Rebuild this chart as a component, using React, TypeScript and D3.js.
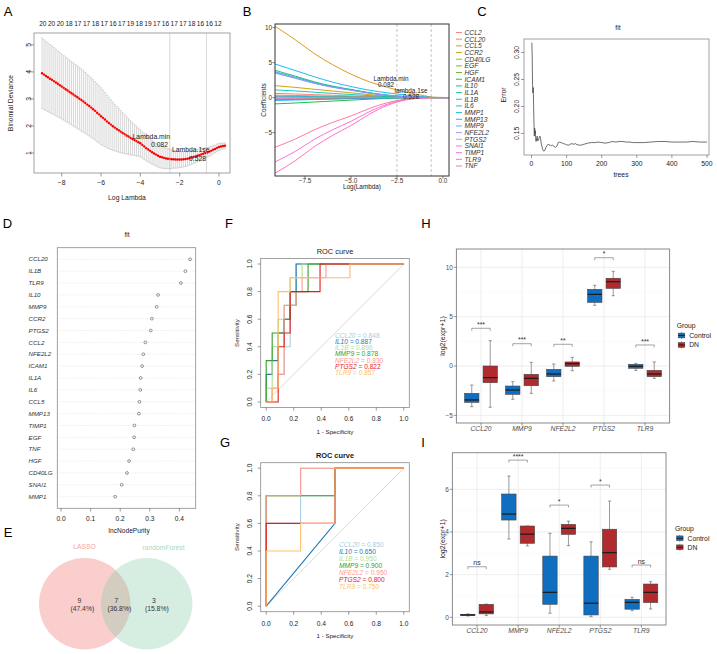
import React from 'react';
import * as d3 from 'd3';

const FONT = '"Liberation Sans", Arial, Helvetica, sans-serif';

// ---------- A: LASSO cross-validation ----------
const cvLogLambda = d3.range(94).map((i) => -9.0 + i * 0.1);
const cvMean = [
  3.95, 3.9, 3.85, 3.8, 3.75, 3.71, 3.66, 3.61, 3.56, 3.51,
  3.46, 3.41, 3.36, 3.31, 3.26, 3.21, 3.16, 3.11, 3.06, 3.01,
  2.96, 2.91, 2.85, 2.79, 2.74, 2.68, 2.62, 2.56, 2.49, 2.43,
  2.36, 2.3, 2.24, 2.17, 2.11, 2.05, 1.99, 1.94, 1.89, 1.84,
  1.79, 1.74, 1.7, 1.65, 1.61, 1.56, 1.52, 1.48, 1.44, 1.4,
  1.36, 1.3, 1.24, 1.18, 1.13, 1.08, 1.03, 0.98, 0.94, 0.9,
  0.86, 0.84, 0.82, 0.8, 0.79, 0.78, 0.77, 0.77, 0.76, 0.76,
  0.76, 0.76, 0.77, 0.78, 0.79, 0.81, 0.83, 0.85, 0.87, 0.9,
  0.92, 0.95, 0.97, 1.0, 1.02, 1.05, 1.08, 1.12, 1.15, 1.19,
  1.22, 1.24, 1.26, 1.27,
];
const cvSe = [
  1.3, 1.29, 1.28, 1.27, 1.26, 1.25, 1.24, 1.23, 1.22, 1.21,
  1.2, 1.19, 1.19, 1.18, 1.18, 1.17, 1.17, 1.16, 1.16, 1.15,
  1.15, 1.14, 1.13, 1.12, 1.11, 1.1, 1.09, 1.08, 1.07, 1.06,
  1.05, 1.03, 1.0, 0.98, 0.95, 0.92, 0.89, 0.86, 0.83, 0.81,
  0.78, 0.75, 0.72, 0.69, 0.66, 0.63, 0.6, 0.57, 0.55, 0.52,
  0.5, 0.49, 0.48, 0.47, 0.46, 0.45, 0.44, 0.43, 0.42, 0.42,
  0.41, 0.4, 0.39, 0.38, 0.37, 0.36, 0.35, 0.33, 0.32, 0.31,
  0.3, 0.29, 0.28, 0.28, 0.27, 0.26, 0.25, 0.24, 0.23, 0.23,
  0.22, 0.21, 0.2, 0.19, 0.18, 0.17, 0.16, 0.15, 0.14, 0.14,
  0.13, 0.12, 0.11, 0.1,
];
const cvNzero = [20, 20, 20, 18, 17, 17, 18, 17, 16, 17, 19, 18, 19, 17, 16, 17, 17, 18, 16, 16, 12];
const lambdaMin = 0.082;
const lambda1se = 0.528;

// ---------- B: coefficient paths ----------
const pathLogLambda = [-9.13, -8, -7, -6, -5, -4, -3, -2, -1, -0.5, 0.33];
const lassoGenes = ['CCL2', 'CCL20', 'CCL5', 'CCR2', 'CD40LG', 'EGF', 'HGF', 'ICAM1', 'IL10', 'IL1A', 'IL1B',
  'IL6', 'MMP1', 'MMP13', 'MMP9', 'NFE2L2', 'PTGS2', 'SNAI1', 'TIMP1', 'TLR9', 'TNF'];
const coefPaths = [
  [0.6, 0.51, 0.42, 0.33, 0.24, 0.15, 0.07, 0.03, 0.01, 0, 0],
  [0.35, 0.3, 0.25, 0.19, 0.14, 0.09, 0.04, 0.02, 0, 0, 0],
  [10.2, 8.2, 6.3, 4.7, 3.35, 2.25, 1.45, 0.77, 0.26, 0.05, 0],
  [1.7, 1.45, 1.19, 0.94, 0.68, 0.43, 0.2, 0.09, 0.02, 0, 0],
  [0.1, 0.08, 0.06, 0.05, 0.03, 0.02, 0.01, 0, 0, 0, 0],
  [-0.2, -0.17, -0.14, -0.11, -0.08, -0.05, -0.02, -0.01, 0, 0, 0],
  [-0.3, -0.26, -0.21, -0.17, -0.12, -0.08, -0.04, -0.01, 0, 0, 0],
  [-0.9, -0.77, -0.63, -0.5, -0.36, -0.23, -0.11, -0.05, -0.01, 0, 0],
  [3.9, 3.04, 2.26, 1.64, 1.17, 0.7, 0.35, 0.14, 0.03, 0, 0],
  [3.7, 2.89, 2.15, 1.55, 1.11, 0.67, 0.33, 0.13, 0.03, 0, 0],
  [1.1, 0.94, 0.77, 0.6, 0.44, 0.28, 0.13, 0.06, 0.01, 0, 0],
  [0.2, 0.17, 0.14, 0.11, 0.08, 0.05, 0.02, 0.01, 0, 0, 0],
  [4.8, 3.84, 2.98, 2.21, 1.58, 1.06, 0.67, 0.36, 0.12, 0.02, 0],
  [-0.4, -0.34, -0.28, -0.22, -0.16, -0.1, -0.05, -0.02, 0, 0, 0],
  [3.5, 2.73, 2.03, 1.47, 1.05, 0.63, 0.32, 0.12, 0.03, 0, 0],
  [3.6, 2.81, 2.09, 1.51, 1.08, 0.65, 0.32, 0.13, 0.03, 0, 0],
  [0.05, 0.04, 0.03, 0.03, 0.02, 0.01, 0.01, 0, 0, 0, 0],
  [-0.1, -0.09, -0.07, -0.06, -0.04, -0.03, -0.01, 0, 0, 0, 0],
  [-9.2, -7.64, -5.98, -4.6, -3.4, -2.02, -0.92, -0.28, -0.05, 0, 0],
  [-10.8, -8.96, -7.02, -5.4, -4.0, -2.38, -1.08, -0.32, -0.05, 0, 0],
  [-7.1, -5.89, -4.62, -3.55, -2.63, -1.56, -0.71, -0.21, -0.04, 0, 0],
];

// ---------- C: random forest error ----------
const rfTrees = [1, 2, 3, 4, 5, 6, 7, 8, 9, 10, 11, 12, 13, 14, 15, 16, 17, 18, 20, 22, 24, 26, 28, 30, 32, 35, 38, 41,
  44, 47, 50, 53, 56, 60, 64, 68, 72, 76, 80, 84, 88, 92, 96, 100, 105, 110, 115, 120, 125, 130, 140, 150, 160, 170,
  180, 190, 200, 210, 220, 230, 240, 250, 260, 270, 280, 290, 300, 320, 340, 360, 380, 400, 420, 440, 460, 480, 500];
const rfError = [0.318, 0.29, 0.24, 0.225, 0.235, 0.2, 0.17, 0.145, 0.16, 0.15, 0.155, 0.14, 0.135, 0.14, 0.138, 0.145,
  0.14, 0.136, 0.138, 0.142, 0.145, 0.14, 0.13, 0.125, 0.12, 0.117, 0.119, 0.124, 0.127, 0.13, 0.128, 0.129, 0.127,
  0.128, 0.126, 0.124, 0.126, 0.133, 0.134, 0.133, 0.132, 0.131, 0.13, 0.129, 0.128, 0.13, 0.131, 0.13, 0.131, 0.129,
  0.128, 0.13, 0.132, 0.133, 0.133, 0.134, 0.133, 0.132, 0.133, 0.135, 0.134, 0.135, 0.135, 0.134, 0.134, 0.133,
  0.133, 0.133, 0.134, 0.135, 0.135, 0.134, 0.134, 0.134, 0.135, 0.134, 0.134];

// ---------- D: variable importance ----------
const impGenes = ['CCL20', 'IL1B', 'TLR9', 'IL10', 'MMP9', 'CCR2', 'PTGS2', 'CCL2', 'NFE2L2', 'ICAM1', 'IL1A', 'IL6',
  'CCL5', 'MMP13', 'TIMP1', 'EGF', 'TNF', 'HGF', 'CD40LG', 'SNAI1', 'MMP1'];
const impValues = [0.436, 0.42, 0.405, 0.328, 0.323, 0.307, 0.303, 0.285, 0.278, 0.274, 0.269, 0.268, 0.265, 0.263,
  0.248, 0.247, 0.244, 0.23, 0.223, 0.205, 0.183];

// ---------- E: Venn ----------
const vennNames = ['LASSO', 'randomForest'];
const vennCounts = [9, 7, 3];
const vennPercents = ['47.4%', '36.8%', '15.8%'];

// ---------- F, G: ROC ----------
const rocGenes = ['CCL20', 'IL10', 'IL1B', 'MMP9', 'NFE2L2', 'PTGS2', 'TLR9'];
const rocColors = ['#A6CEE3', '#1F78B4', '#B2DF8A', '#33A02C', '#FB9A99', '#E31A1C', '#FDBF6F'];
const aucTrain = ['0.848', '0.887', '0.896', '0.878', '0.830', '0.822', '0.857'];
const tprTrain = [
  [0, 0.1, 0.2, 0.4, 0.8, 1, 1, 1, 1, 1, 1, 1, 1, 1, 1, 1, 1, 1, 1, 1, 1, 1, 1],
  [0.2, 0.3, 0.5, 0.6, 0.8, 1, 1, 1, 1, 1, 1, 1, 1, 1, 1, 1, 1, 1, 1, 1, 1, 1, 1],
  [0.1, 0.4, 0.6, 0.7, 0.9, 0.9, 1, 1, 1, 1, 1, 1, 1, 1, 1, 1, 1, 1, 1, 1, 1, 1, 1],
  [0.3, 0.5, 0.5, 0.6, 0.7, 0.8, 0.8, 1, 1, 1, 1, 1, 1, 1, 1, 1, 1, 1, 1, 1, 1, 1, 1],
  [0, 0.1, 0.2, 0.7, 0.7, 0.8, 0.9, 0.9, 0.9, 0.9, 1, 1, 1, 1, 1, 1, 1, 1, 1, 1, 1, 1, 1],
  [0, 0, 0.4, 0.5, 0.8, 0.8, 0.8, 0.8, 0.8, 1, 1, 1, 1, 1, 1, 1, 1, 1, 1, 1, 1, 1, 1],
  [0, 0.1, 0.8, 0.8, 0.9, 0.9, 0.9, 0.9, 0.9, 0.9, 0.9, 0.9, 0.9, 0.9, 1, 1, 1, 1, 1, 1, 1, 1, 1],
];
const aucTest = ['0.850', '0.650', '0.950', '0.900', '0.950', '0.800', '0.750'];
const rocTest = [
  [[0, 0], [0, 0.6], [0.25, 0.6], [0.25, 0.8], [0.5, 0.8], [0.5, 1], [1, 1]],
  [[0, 0], [0.5, 0.6], [0.5, 1], [1, 1]],
  [[0, 0], [0, 0.8], [0.25, 0.8], [0.25, 1], [1, 1]],
  [[0, 0], [0, 0.8], [0.5, 0.8], [0.5, 1], [1, 1]],
  [[0, 0], [0, 0.8], [0.25, 0.8], [0.25, 1], [1, 1]],
  [[0, 0], [0, 0.6], [0.5, 0.6], [0.5, 1], [1, 1]],
  [[0, 0], [0, 0.4], [0.25, 0.4], [0.25, 0.6], [0.5, 0.6], [0.5, 1], [1, 1]],
];

// ---------- H, I: expression boxplots [lower, q1, median, q3, upper] ----------
const boxGenes = ['CCL20', 'MMP9', 'NFE2L2', 'PTGS2', 'TLR9'];
const groupNames = ['Control', 'DN'];
const groupColors = ['#0F6EC0', '#B02A2E'];
const trainControl = [[-4.12, -3.68, -3.44, -2.77, -1.93], [-3.37, -2.87, -2.43, -2.03, -1.59],
  [-1.52, -1.08, -0.81, -0.34, 0.2], [6.15, 6.45, 7.26, 7.77, 8.18], [-0.44, -0.23, -0.03, 0.17, 0.27]];
const trainDN = [[-4.18, -1.69, -1.18, 0.0, 2.56], [-2.77, -2.0, -1.25, -0.84, 0.37],
  [-0.48, -0.03, 0.23, 0.41, 0.88], [7.12, 7.87, 8.54, 8.89, 9.59], [-1.25, -1.08, -0.81, -0.44, 0.41]];
const trainSig = ['***', '***', '**', '*', '***'];
const trainSigY = [3.82, 2.26, 2.2, 10.97, 2.13];
const testControl = [[0.06, 0.08, 0.11, 0.14, 0.16], [3.67, 4.56, 4.84, 5.78, 6.62], [0.19, 0.61, 1.17, 2.87, 3.94],
  [0.03, 0.11, 0.66, 2.87, 3.54], [0.31, 0.38, 0.7, 0.84, 0.94]];
const testDN = [[0.08, 0.16, 0.25, 0.61, 0.62], [3.35, 3.47, 3.9, 4.28, 4.28], [3.36, 3.89, 4.17, 4.36, 4.51],
  [2.25, 2.36, 3.03, 4.13, 5.45], [0.39, 0.69, 1.17, 1.56, 1.67]];
const testSig = ['ns', '****', '*', '*', 'ns'];
const testSigY = [2.37, 7.37, 5.26, 6.2, 2.45];

// R's hcl() (polar LUV) so the palette matches ggplot's default hues
function hclR(h: number, c = 100, l = 65) {
  const Xn = 95.047, Yn = 100, Zn = 108.883;
  const Y = l > 8 ? Yn * Math.pow((l + 16) / 116, 3) : (Yn * l) / 903.3;
  const hr = (h * Math.PI) / 180;
  const den = Xn + 15 * Yn + 3 * Zn;
  const up = (c * Math.cos(hr)) / (13 * l) + (4 * Xn) / den;
  const vp = (c * Math.sin(hr)) / (13 * l) + (9 * Yn) / den;
  const X = (9 * Y * up) / (4 * vp);
  const Z = (Y * (12 - 3 * up - 20 * vp)) / (4 * vp);
  const x = X / 100, y = Y / 100, z = Z / 100;
  const r = 3.240479 * x - 1.53715 * y - 0.498535 * z;
  const g = -0.969256 * x + 1.875992 * y + 0.041556 * z;
  const b = 0.055648 * x - 0.204043 * y + 1.057311 * z;
  const gam = (t: number) => {
    const v = t <= 0.0031308 ? 12.92 * t : 1.055 * Math.pow(t, 1 / 2.4) - 0.055;
    return Math.round(Math.max(0, Math.min(1, v)) * 255);
  };
  return d3.rgb(gam(r), gam(g), gam(b)).formatHex();
}
const lassoColors = lassoGenes.map((_, i) => hclR(15 + (360 * i) / lassoGenes.length));

// text helper, y is the visual centre of the text
function Txt({ x, y, size = 6.8, anchor = 'middle', rot = false, italic = false, bold = false, fill = '#1a1a1a', children }: any) {
  return (
    <text
      x={rot ? 0 : x}
      y={rot ? 0 : y}
      transform={rot ? `translate(${x},${y}) rotate(-90)` : undefined}
      dy="0.35em"
      fontSize={size}
      textAnchor={anchor}
      fontStyle={italic ? 'italic' : 'normal'}
      fontWeight={bold ? 'bold' : 'normal'}
      fill={fill}
    >
      {children}
    </text>
  );
}

const fmtMinus = (v: number, f = (n: number) => String(n)) => (v < 0 ? '\u2212' + f(-v) : f(v));

function PanelA() {
  const x = d3.scaleLinear().domain([-9.41, 0.56]).range([34, 230]);
  const y = d3.scaleLinear().domain([0.26, 5.44]).range([173, 33]);
  const nz = d3.scaleLinear().domain([0, cvNzero.length - 1]).range([-8.96, -0.05]);
  const gray = '#c6c6c6';
  return (
    <g>
      {cvLogLambda.map((ll, i) => {
        const cx = x(ll), lo = y(cvMean[i] - cvSe[i]), hi = y(cvMean[i] + cvSe[i]);
        return (
          <g key={i} stroke={gray} strokeWidth={0.7}>
            <line x1={cx} x2={cx} y1={lo} y2={hi} />
            <line x1={cx - 1.1} x2={cx + 1.1} y1={lo} y2={lo} />
            <line x1={cx - 1.1} x2={cx + 1.1} y1={hi} y2={hi} />
          </g>
        );
      })}
      {cvLogLambda.map((ll, i) => (
        <circle key={i} cx={x(ll)} cy={y(cvMean[i])} r={1.2} fill="#ff0000" />
      ))}
      {[lambdaMin, lambda1se].map((l) => (
        <line key={l} x1={x(Math.log(l))} x2={x(Math.log(l))} y1={33} y2={173} stroke="#bdbdbd" strokeWidth={0.6} />
      ))}
      <rect x={34} y={33} width={196} height={140} fill="none" stroke="#8a8a8a" strokeWidth={0.8} />
      {cvNzero.map((n, i) => (
        <Txt key={i} x={x(nz(i))} y={24} size={6.6}>{n}</Txt>
      ))}
      {[-8, -6, -4, -2, 0].map((t) => (
        <g key={t}>
          <line x1={x(t)} x2={x(t)} y1={173} y2={176.5} stroke="#555" strokeWidth={0.6} />
          <Txt x={x(t)} y={182.5} size={6.8}>{fmtMinus(t)}</Txt>
        </g>
      ))}
      {[1, 2, 3, 4, 5].map((t) => (
        <g key={t}>
          <line x1={30.5} x2={34} y1={y(t)} y2={y(t)} stroke="#555" strokeWidth={0.6} />
          <Txt x={28.5} y={y(t)} rot size={6.8}>{t}</Txt>
        </g>
      ))}
      <Txt x={127} y={198} size={6.8}>Log Lambda</Txt>
      <Txt x={11} y={103} rot size={6.8}>Binomial Deviance</Txt>
      <Txt x={170} y={137} anchor="end" size={6.8}>Lambda.min</Txt>
      <Txt x={168} y={145} anchor="end" size={6.8}>0.082</Txt>
      <Txt x={172} y={150} anchor="start" size={6.8}>Lambda.1se</Txt>
      <Txt x={206} y={159} anchor="end" size={6.8}>0.528</Txt>
    </g>
  );
}

function PanelB() {
  const x = d3.scaleLinear().domain([-9.13, 0.33]).range([275, 449]);
  const y = d3.scaleLinear().domain([-11.2, 10.51]).range([176, 24]);
  const line = d3.line<number>().x((_, i) => x(pathLogLambda[i])).y((d) => y(d)).curve(d3.curveMonotoneX);
  const legY = d3.scaleLinear().domain([0, lassoGenes.length - 1]).range([32.5, 166]);
  return (
    <g>
      <defs>
        <clipPath id="clipB"><rect x={275} y={24} width={174} height={152} /></clipPath>
      </defs>
      <g clipPath="url(#clipB)">
        {coefPaths.map((p, i) => (
          <path key={i} d={line(p) || ''} fill="none" stroke={lassoColors[i]} strokeWidth={0.9} />
        ))}
      </g>
      {[lambdaMin, lambda1se].map((l) => (
        <line key={l} x1={x(Math.log(l))} x2={x(Math.log(l))} y1={24} y2={176} stroke="#9a9a9a" strokeWidth={0.6} strokeDasharray="3,2" />
      ))}
      <rect x={275} y={24} width={174} height={152} fill="none" stroke="#333" strokeWidth={1} />
      {[-7.5, -5, -2.5, 0].map((t) => (
        <g key={t}>
          <line x1={x(t)} x2={x(t)} y1={176} y2={178.5} stroke="#333" strokeWidth={0.6} />
          <Txt x={x(t)} y={180.5} size={6.4} fill="#333">{fmtMinus(t, (n) => n.toFixed(1))}</Txt>
        </g>
      ))}
      {[-5, 0, 5, 10].map((t) => (
        <g key={t}>
          <line x1={272.5} x2={275} y1={y(t)} y2={y(t)} stroke="#333" strokeWidth={0.6} />
          <Txt x={272} y={y(t)} anchor="end" size={6.4} fill="#333">{fmtMinus(t)}</Txt>
        </g>
      ))}
      <Txt x={264} y={100} rot size={6.4}>Coefficients</Txt>
      <Txt x={362} y={186.5} size={6.4}>Log(Lambda)</Txt>
      <Txt x={391} y={79} size={6.4}>Lambda.min</Txt>
      <Txt x={386} y={85} size={6.4}>0.082</Txt>
      <Txt x={411} y={90.5} size={6.4}>lambda.1se</Txt>
      <Txt x={411} y={96.5} size={6.4}>0.528</Txt>
      {lassoGenes.map((g, i) => (
        <g key={g}>
          <line x1={456} x2={462} y1={legY(i)} y2={legY(i)} stroke={lassoColors[i]} strokeWidth={0.9} />
          <Txt x={464.5} y={legY(i)} anchor="start" italic size={6.7} fill="#333">{g}</Txt>
        </g>
      ))}
    </g>
  );
}

function PanelC() {
  const x = d3.scaleLinear().domain([-21.4, 505.7]).range([524, 709]);
  const y = d3.scaleLinear().domain([0.11, 0.325]).range([155, 39]);
  const line = d3.line<number>().x((_, i) => x(rfTrees[i])).y((d) => y(d));
  return (
    <g>
      <path d={line(rfError) || ''} fill="none" stroke="#4a4a4a" strokeWidth={0.8} />
      <rect x={524} y={39} width={185} height={116} fill="none" stroke="#8a8a8a" strokeWidth={0.8} />
      {[0, 100, 200, 300, 400, 500].map((t) => (
        <g key={t}>
          <line x1={x(t)} x2={x(t)} y1={155} y2={158} stroke="#555" strokeWidth={0.6} />
          <Txt x={x(t)} y={163.5} size={6.8}>{t}</Txt>
        </g>
      ))}
      {[0.15, 0.2, 0.25, 0.3].map((t) => (
        <g key={t}>
          <line x1={521} x2={524} y1={y(t)} y2={y(t)} stroke="#555" strokeWidth={0.6} />
          <Txt x={516.5} y={y(t)} rot size={6.8}>{t.toFixed(2)}</Txt>
        </g>
      ))}
      <Txt x={618} y={28} size={6.8}>fit</Txt>
      <Txt x={621} y={174.5} size={6.8}>trees</Txt>
      <Txt x={504} y={95} rot size={6.8}>Error</Txt>
    </g>
  );
}

function PanelD() {
  const x = d3.scaleLinear().domain([-0.0125, 0.455]).range([57.3, 195.7]);
  const y = d3.scalePoint().domain(impGenes).range([259.3, 496.7]);
  return (
    <g>
      {impGenes.map((g, i) => (
        <g key={g}>
          <line x1={57.3} x2={195.7} y1={y(g)} y2={y(g)} stroke="#cfcfcf" strokeWidth={0.5} strokeDasharray="1,1.5" />
          <circle cx={x(impValues[i])} cy={y(g)} r={1.4} fill="none" stroke="#333" strokeWidth={0.5} />
          <Txt x={28.5} y={y(g)} anchor="start" italic size={6.2} fill="#333">{g}</Txt>
        </g>
      ))}
      <rect x={57.3} y={247.7} width={138.4} height={260.6} fill="none" stroke="#8a8a8a" strokeWidth={0.8} />
      {[0, 0.1, 0.2, 0.3, 0.4].map((t) => (
        <g key={t}>
          <line x1={x(t)} x2={x(t)} y1={508.3} y2={511.5} stroke="#555" strokeWidth={0.6} />
          <Txt x={x(t)} y={518.5} size={6.6}>{t.toFixed(1)}</Txt>
        </g>
      ))}
      <Txt x={127} y={235} size={6.6}>fit</Txt>
      <Txt x={129} y={531} size={6.6}>IncNodePurity</Txt>
    </g>
  );
}

function PanelE() {
  const cy = 603.8;
  const r = 45.7;
  const cx = [84.7, 146.7];
  const numX = [79.5, 116.5, 154];
  return (
    <g>
      <circle cx={cx[0]} cy={cy} r={r} fill="rgb(244,120,120)" fillOpacity={0.36} />
      <circle cx={cx[1]} cy={cy} r={r} fill="rgb(120,200,160)" fillOpacity={0.3} />
      <Txt x={84.5} y={547} size={6.8} fill="#F5A3A3">{vennNames[0]}</Txt>
      <Txt x={163.5} y={547.5} size={6.8} fill="#A3DDBF">{vennNames[1]}</Txt>
      {vennCounts.map((c, i) => (
        <g key={i}>
          <Txt x={numX[i]} y={600.5} size={6.8} fill="#333">{c}</Txt>
          <Txt x={numX[i] + 2.8} y={608.3} size={6.8} fill="#333">({vennPercents[i]})</Txt>
        </g>
      ))}
    </g>
  );
}

function RocPanel({ top, titleY, boldTitle, paths, aucs, legX, legY0, legDy }: any) {
  const left = 260.7, right = 409.3, bottom = top + 149;
  const x = d3.scaleLinear().domain([-0.04, 1.04]).range([left, right]);
  const y = d3.scaleLinear().domain([-0.04, 1.04]).range([bottom, top]);
  const line = d3.line<number[]>().x((d) => x(d[0])).y((d) => y(d[1]));
  const ticks = [0, 0.2, 0.4, 0.6, 0.8, 1];
  return (
    <g>
      <line x1={x(0)} y1={y(0)} x2={x(1)} y2={y(1)} stroke="#d0d0d0" strokeWidth={0.8} />
      {paths.map((p: number[][], i: number) => (
        <path key={i} d={line(p) || ''} fill="none" stroke={rocColors[i]} strokeWidth={1.1} />
      ))}
      <rect x={left} y={top} width={right - left} height={bottom - top} fill="none" stroke="#8a8a8a" strokeWidth={0.8} />
      {ticks.map((t) => (
        <g key={t}>
          <line x1={x(t)} x2={x(t)} y1={bottom} y2={bottom + 3} stroke="#555" strokeWidth={0.6} />
          <Txt x={x(t)} y={bottom + 11.5} size={6.6}>{t.toFixed(1)}</Txt>
          <line x1={left - 3} x2={left} y1={y(t)} y2={y(t)} stroke="#555" strokeWidth={0.6} />
          <Txt x={249.5} y={y(t)} rot size={6.6}>{t.toFixed(1)}</Txt>
        </g>
      ))}
      <Txt x={335} y={titleY} size={7.4} bold={boldTitle}>ROC curve</Txt>
      <Txt x={335} y={bottom + 24} size={6.2}>1 - Specificity</Txt>
      <Txt x={237} y={(top + bottom) / 2} rot size={6.2}>Sensitivity</Txt>
      {rocGenes.map((g, i) => (
        <text key={g} x={legX} y={legY0 + i * legDy} dy="0.35em" fontSize={6.6} fill={rocColors[i]}>
          <tspan fontStyle="italic">{g}</tspan>
          <tspan>{` = ${aucs[i]}`}</tspan>
        </text>
      ))}
    </g>
  );
}

function BoxPanel({ left, right, top, bottom, domain, major, minor, control, dn, sig, sigY, yTitleX, legX, legTitleY, legY }: any) {
  const x = d3.scalePoint().domain(boxGenes).range([left, right]).padding(0.6);
  const step = x.step();
  const y = d3.scaleLinear().domain(domain).range([bottom, top]);
  const bw = 0.35 * step;
  const off = 0.225 * step;
  const drawBox = (cx: number, s: number[], fill: string, key: string) => (
    <g key={key}>
      <line x1={cx} x2={cx} y1={y(s[0])} y2={y(s[1])} stroke="#555" strokeWidth={0.6} />
      <line x1={cx} x2={cx} y1={y(s[3])} y2={y(s[4])} stroke="#555" strokeWidth={0.6} />
      <line x1={cx - 1.6} x2={cx + 1.6} y1={y(s[0])} y2={y(s[0])} stroke="#555" strokeWidth={0.6} />
      <line x1={cx - 1.6} x2={cx + 1.6} y1={y(s[4])} y2={y(s[4])} stroke="#555" strokeWidth={0.6} />
      <rect x={cx - bw / 2} y={y(s[3])} width={bw} height={Math.max(0.6, y(s[1]) - y(s[3]))} fill={fill} stroke="#444" strokeWidth={0.6} />
      <line x1={cx - bw / 2} x2={cx + bw / 2} y1={y(s[2])} y2={y(s[2])} stroke="#1a1a1a" strokeWidth={1.2} />
    </g>
  );
  return (
    <g>
      <rect x={left} y={top} width={right - left} height={bottom - top} fill="#fff" />
      {minor.map((t: number) => (
        <line key={'m' + t} x1={left} x2={right} y1={y(t)} y2={y(t)} stroke="#f2f2f2" strokeWidth={0.4} />
      ))}
      {major.map((t: number) => (
        <line key={'M' + t} x1={left} x2={right} y1={y(t)} y2={y(t)} stroke="#e6e6e6" strokeWidth={0.7} />
      ))}
      {boxGenes.map((g) => (
        <line key={'v' + g} x1={x(g)} x2={x(g)} y1={top} y2={bottom} stroke="#e6e6e6" strokeWidth={0.7} />
      ))}
      {boxGenes.map((g, i) => drawBox((x(g) as number) - off, control[i], groupColors[0], 'c' + g))}
      {boxGenes.map((g, i) => drawBox((x(g) as number) + off, dn[i], groupColors[1], 'd' + g))}
      {boxGenes.map((g, i) => {
        const x1 = (x(g) as number) - off, x2 = (x(g) as number) + off, by = y(sigY[i]);
        return (
          <g key={'s' + g}>
            <path d={`M${x1},${by + 2.5}V${by}H${x2}V${by + 2.5}`} fill="none" stroke="#666" strokeWidth={0.6} />
            <Txt x={(x1 + x2) / 2} y={by - 3.8} size={7} fill="#333">{sig[i]}</Txt>
          </g>
        );
      })}
      <rect x={left} y={top} width={right - left} height={bottom - top} fill="none" stroke="#8a8a8a" strokeWidth={1} />
      {major.map((t: number) => (
        <g key={'t' + t}>
          <line x1={left - 2.7} x2={left} y1={y(t)} y2={y(t)} stroke="#555" strokeWidth={0.6} />
          <Txt x={left - 3.5} y={y(t)} anchor="end" size={6.5} fill="#4d4d4d">{fmtMinus(t)}</Txt>
        </g>
      ))}
      {boxGenes.map((g) => (
        <g key={'x' + g}>
          <line x1={x(g)} x2={x(g)} y1={bottom} y2={bottom + 2.7} stroke="#555" strokeWidth={0.6} />
          <Txt x={x(g)} y={bottom + 5.5} italic size={6.8} fill="#4d4d4d">{g}</Txt>
        </g>
      ))}
      <Txt x={yTitleX} y={(top + bottom) / 2} rot size={7}>log2(expr+1)</Txt>
      <Txt x={legX} y={legTitleY} anchor="start" size={6.8}>Group</Txt>
      {groupNames.map((n, i) => (
        <g key={n}>
          <line x1={legX + 4.8} x2={legX + 4.8} y1={legY[i] - 3.5} y2={legY[i] + 3.5} stroke="#555" strokeWidth={0.6} />
          <rect x={legX + 1.5} y={legY[i] - 2.4} width={6.6} height={4.8} fill={groupColors[i]} stroke="#444" strokeWidth={0.5} />
          <line x1={legX + 1.5} x2={legX + 8.1} y1={legY[i]} y2={legY[i]} stroke="#1a1a1a" strokeWidth={0.9} />
          <Txt x={legX + 12.5} y={legY[i]} anchor="start" size={6.8}>{n}</Txt>
        </g>
      ))}
    </g>
  );
}

const stepPath = (t: number[]) => {
  const n = t.length;
  const pts: number[][] = [[0, 0]];
  t.forEach((v, k) => {
    pts.push([k / n, v]);
    pts.push([(k + 1) / n, v]);
  });
  return pts;
};

export default function App() {
  return (
    <svg
      width={717}
      height={654}
      viewBox="0 0 717 654"
      style={{ position: 'absolute', left: 0, top: 0, background: '#fff' }}
      fontFamily={FONT}
    >
      <rect width={717} height={654} fill="#fff" />
      <PanelA />
      <PanelB />
      <PanelC />
      <PanelD />
      <PanelE />
      <RocPanel top={258.5} titleY={251} boldTitle={false} paths={tprTrain.map(stepPath)} aucs={aucTrain}
        legX={335} legY0={336} legDy={6.05} />
      <RocPanel top={462.7} titleY={455} boldTitle={true} paths={rocTest} aucs={aucTest}
        legX={339} legY0={545} legDy={6.9} />
      <BoxPanel left={456.4} right={669.6} top={249} bottom={423} domain={[-5.775, 11.854]}
        major={[-5, 0, 5, 10]} minor={[-2.5, 2.5, 7.5]} control={trainControl} dn={trainDN}
        sig={trainSig} sigY={trainSigY} yTitleX={443} legX={676.7} legTitleY={325.7} legY={[335.5, 345]} />
      <BoxPanel left={452.4} right={666} top={452.7} bottom={625} domain={[-0.361, 7.717]}
        major={[0, 2, 4, 6]} minor={[1, 3, 5, 7]} control={testControl} dn={testDN}
        sig={testSig} sigY={testSigY} yTitleX={442.3} legX={675} legTitleY={528.3} legY={[538.3, 547.3]} />
      {[['A', 8, 11], ['B', 247, 11], ['C', 482, 11], ['D', 7.5, 223.5], ['F', 229, 223.5], ['H', 426, 223.5],
        ['E', 8, 532.5], ['G', 225, 442], ['I', 423, 442.5]].map(([l, lx, ly]) => (
        <Txt key={l as string} x={lx} y={ly} size={13} fill="#000">{l}</Txt>
      ))}
    </svg>
  );
}
